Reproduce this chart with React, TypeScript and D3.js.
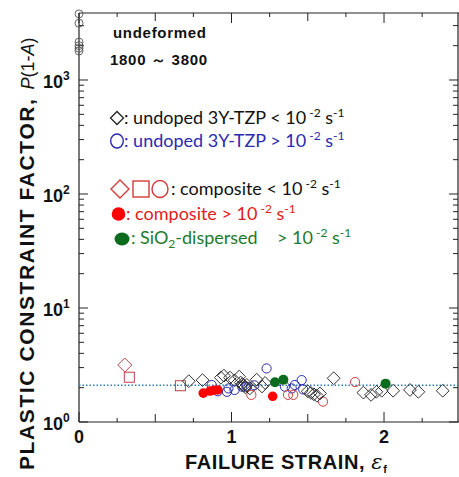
import React from "react";
import * as d3 from "d3";

// ---------- data ----------
const undeformedX = [0, 0, 0, 0, 0, 0];
const undeformedY = [3800, 3150, 2150, 2000, 1900, 1800];

// undoped 3Y-TZP < 1e-2 s^-1 (open black diamonds)
const undopedSlowX = [0.72, 0.81, 0.93, 0.95, 0.99, 1.02, 1.05, 1.06, 1.07, 1.08, 1.09, 1.1, 1.12, 1.165, 1.2, 1.22, 1.5, 1.52, 1.54, 1.56, 1.58, 1.67, 1.865, 1.915, 1.95, 1.985, 2.06, 2.17, 2.225, 2.385];
const undopedSlowY = [2.28, 2.33, 2.45, 2.55, 2.45, 2.32, 2.5, 2.22, 2.15, 2.08, 2.02, 2.12, 1.97, 2.35, 2.05, 2.2, 1.86, 1.8, 1.75, 1.7, 1.78, 2.42, 1.81, 1.73, 1.84, 1.88, 1.88, 1.91, 1.84, 1.88];

// undoped 3Y-TZP > 1e-2 s^-1 (open blue circles)
const undopedFastX = [0.87, 0.91, 0.97, 0.98, 1.02, 1.07, 1.1, 1.15, 1.23, 1.35, 1.395, 1.415, 1.46, 1.47];
const undopedFastY = [2.11, 1.86, 1.84, 1.97, 1.91, 2.04, 2.04, 2.1, 2.95, 2.04, 1.97, 2.11, 2.33, 1.93];

// composite < 1e-2 s^-1 (open red diamond, squares, circles)
const compDiamondX = [0.3];
const compDiamondY = [3.16];
const compSquareX = [0.33, 0.665];
const compSquareY = [2.47, 2.08];
const compCircleX = [1.13, 1.37, 1.405, 1.6, 1.81];
const compCircleY = [1.73, 1.73, 1.73, 1.51, 2.24];

// composite > 1e-2 s^-1 (filled red circles)
const compFastX = [0.815, 0.86, 0.885, 0.91, 1.27];
const compFastY = [1.79, 1.87, 1.9, 1.91, 1.68];

// SiO2-dispersed > 1e-2 s^-1 (filled green circles)
const silicaX = [1.285, 1.34, 2.01];
const silicaY = [2.23, 2.35, 2.17];

const referenceLevel = 2.1;
const xTickLabels = [0, 1, 2];
const yTickExponents = [0, 1, 2, 3];

// ---------- layout ----------
const W = 459;
const H = 477;
const left = 79;
const right = 458;
const top = 13;
const bottom = 422;

const x = d3.scaleLinear().domain([0, 2.485]).range([left, right]);
const y = d3.scaleLog().domain([1, 3870]).range([bottom, top]);

const AXIS_FONT = "'Liberation Sans', Arial, sans-serif";
const LEG_FONT = "Lato, 'Open Sans', sans-serif";

const diamondPath = (cx: number, cy: number, r: number) =>
  `M${cx},${cy - r}L${cx + r},${cy}L${cx},${cy + r}L${cx - r},${cy}Z`;

export default function App() {
  const xTicks = d3.range(0, 2.49, 0.25);
  const yMinor: number[] = [];
  for (let e = 0; e < 4; e++) {
    for (let m = 1; m < 10; m++) {
      const v = m * Math.pow(10, e);
      if (v <= 3870) yMinor.push(v);
    }
  }
  const tickLenX = (v: number) =>
    Math.abs(v - Math.round(v)) < 1e-6 ? 10 : Math.abs(v * 2 - Math.round(v * 2)) < 1e-6 ? 8 : 4;
  const isMajorY = (v: number) => Math.abs(Math.log10(v) - Math.round(Math.log10(v))) < 1e-9;

  const supStyle = { fontSize: 12 } as const;

  const rateSuffix = (
    <>
      <tspan style={supStyle} dy={-7} dx={3}>-2</tspan>
      <tspan dy={7}> s</tspan>
      <tspan style={supStyle} dy={-7}>-1</tspan>
    </>
  );

  return (
    <svg width={W} height={H} style={{ position: "absolute", left: 0, top: 0, background: "#fff" }}>
      <rect x={0} y={0} width={W} height={H} fill="#fff" />
      {/* frame */}
      <g stroke="#222" strokeWidth={1.2} fill="none">
        <line x1={left} y1={top} x2={W} y2={top} />
        <line x1={left} y1={bottom} x2={W} y2={bottom} />
        <line x1={left} y1={top} x2={left} y2={bottom} />
        <line x1={right} y1={top} x2={right} y2={bottom} />
      </g>
      {/* ticks */}
      <g stroke="#222" strokeWidth={1}>
        {xTicks.map((v, i) => (
          <g key={"xt" + i}>
            <line x1={x(v)} x2={x(v)} y1={bottom} y2={bottom - tickLenX(v)} />
            <line x1={x(v)} x2={x(v)} y1={top} y2={top + tickLenX(v)} />
          </g>
        ))}
        {yMinor.map((v, i) => {
          const L = isMajorY(v) ? 9 : 5;
          return (
            <g key={"yt" + i}>
              <line x1={left} x2={left + L} y1={y(v)} y2={y(v)} />
              <line x1={right} x2={right - L} y1={y(v)} y2={y(v)} />
            </g>
          );
        })}
      </g>
      {/* x tick labels */}
      <g fontFamily={AXIS_FONT} fontWeight="bold" fontSize={18} fill="#111" textAnchor="middle">
        {xTickLabels.map((v) => (
          <text key={"xl" + v} x={x(v)} y={443}>
            {v}
          </text>
        ))}
      </g>
      {/* y tick labels */}
      <g fontFamily={AXIS_FONT} fontWeight="bold" fill="#111">
        {yTickExponents.map((e) => (
          <text key={"yl" + e} x={43} y={y(Math.pow(10, e)) + 8} fontSize={18}>
            10
            <tspan fontSize={12} dy={-8}>
              {e}
            </tspan>
          </text>
        ))}
      </g>
      {/* axis titles */}
      <text x={185} y={469} fontFamily={AXIS_FONT} fontWeight="bold" fontSize={20} letterSpacing={0.6} fill="#111">
        FAILURE STRAIN,{" "}
        <tspan fontStyle="italic" fontWeight="normal" fontFamily="'DejaVu Serif', serif" fontSize={21}>
          ε
        </tspan>
        <tspan fontSize={11} dy={4}>
          f
        </tspan>
      </text>
      <text
        transform={`translate(34,470) rotate(-90)`}
        fontFamily={AXIS_FONT}
        fontWeight="bold"
        fontSize={21}
        letterSpacing={1.6}
        fill="#111"
      >
        PLASTIC CONSTRAINT FACTOR,
        <tspan fontWeight="normal" letterSpacing={0} fontSize={18} dx={8}>
          <tspan fontStyle="italic">P</tspan>(1-<tspan fontStyle="italic">A</tspan>)
        </tspan>
      </text>

      {/* reference dotted line */}
      <line
        x1={left}
        x2={right}
        y1={y(referenceLevel)}
        y2={y(referenceLevel)}
        stroke="#2f7fae"
        strokeWidth={1.4}
        strokeDasharray="1.5 2"
      />

      {/* data */}
      <g fill="none" stroke="#555" strokeWidth={0.9}>
        {undeformedX.map((v, i) => (
          <circle key={"ud" + i} cx={x(v)} cy={y(undeformedY[i])} r={4} />
        ))}
      </g>
      <g fill="none" stroke="#c2404a" strokeWidth={1}>
        {compDiamondX.map((v, i) => (
          <path key={"cd" + i} d={diamondPath(x(v), y(compDiamondY[i]), 7)} />
        ))}
        {compSquareX.map((v, i) => (
          <rect key={"cs" + i} x={x(v) - 5} y={y(compSquareY[i]) - 5} width={10} height={10} />
        ))}
      </g>
      <g fill="none" stroke="#2b2bb0" strokeWidth={1}>
        {undopedFastX.map((v, i) => (
          <circle key={"uf" + i} cx={x(v)} cy={y(undopedFastY[i])} r={4.6} />
        ))}
      </g>
      <g fill="none" stroke="#d43a3a" strokeWidth={1}>
        {compCircleX.map((v, i) => (
          <circle key={"cc" + i} cx={x(v)} cy={y(compCircleY[i])} r={4.6} />
        ))}
      </g>
      <g fill="none" stroke="#333" strokeWidth={1}>
        {undopedSlowX.map((v, i) => (
          <path key={"us" + i} d={diamondPath(x(v), y(undopedSlowY[i]), 6.4)} />
        ))}
      </g>
      <g fill="#ff0000">
        {compFastX.map((v, i) => (
          <circle key={"cf" + i} cx={x(v)} cy={y(compFastY[i])} r={4.8} />
        ))}
      </g>
      <g fill="#0d6b1d">
        {silicaX.map((v, i) => (
          <circle key={"si" + i} cx={x(v)} cy={y(silicaY[i])} r={5} />
        ))}
      </g>

      {/* annotations */}
      <g fontFamily={AXIS_FONT} fontWeight="bold" fill="#111" fontSize={15} letterSpacing={0.7}>
        <text x={113} y={38}>undeformed</text>
        <text x={110} y={65}>1800 ～ 3800</text>
      </g>

      {/* legend */}
      <g fontFamily={LEG_FONT} fontSize={18}>
        <path d={diamondPath(117, 118, 6.5)} fill="none" stroke="#222" strokeWidth={1.3} />
        <text x={124} y={124} fill="#111">
          : undoped 3Y-TZP &lt; 10
          {rateSuffix}
        </text>

        <ellipse cx={117} cy={141} rx={6.3} ry={7} fill="none" stroke="#2b2bb0" strokeWidth={1.4} />
        <text x={124} y={147} fill="#2b2bb0">
          : undoped 3Y-TZP &gt; 10
          {rateSuffix}
        </text>

        <path d={diamondPath(120, 189, 9)} fill="none" stroke="#d43a3a" strokeWidth={1.4} />
        <rect x={133} y={181} width={16} height={16} fill="none" stroke="#d43a3a" strokeWidth={1.4} />
        <ellipse cx={160} cy={189} rx={8} ry={8.5} fill="none" stroke="#d43a3a" strokeWidth={1.4} />
        <text x={171} y={195} fill="#111">
          : composite &lt; 10
          {rateSuffix}
        </text>

        <circle cx={118.5} cy={214} r={6.8} fill="#ff0000" />
        <text x={126} y={220} fill="#e02020">
          : composite &gt; 10
          {rateSuffix}
        </text>

        <ellipse cx={122} cy={239} rx={7.5} ry={6.5} fill="#0d6b1d" />
        <text x={131} y={244} fill="#1f7a2a">
          : SiO
          <tspan fontSize={12} dy={4}>2</tspan>
          <tspan dy={-4}>-dispersed</tspan>
          <tspan x={277}>&gt; 10</tspan>
          {rateSuffix}
        </text>
      </g>
    </svg>
  );
}
